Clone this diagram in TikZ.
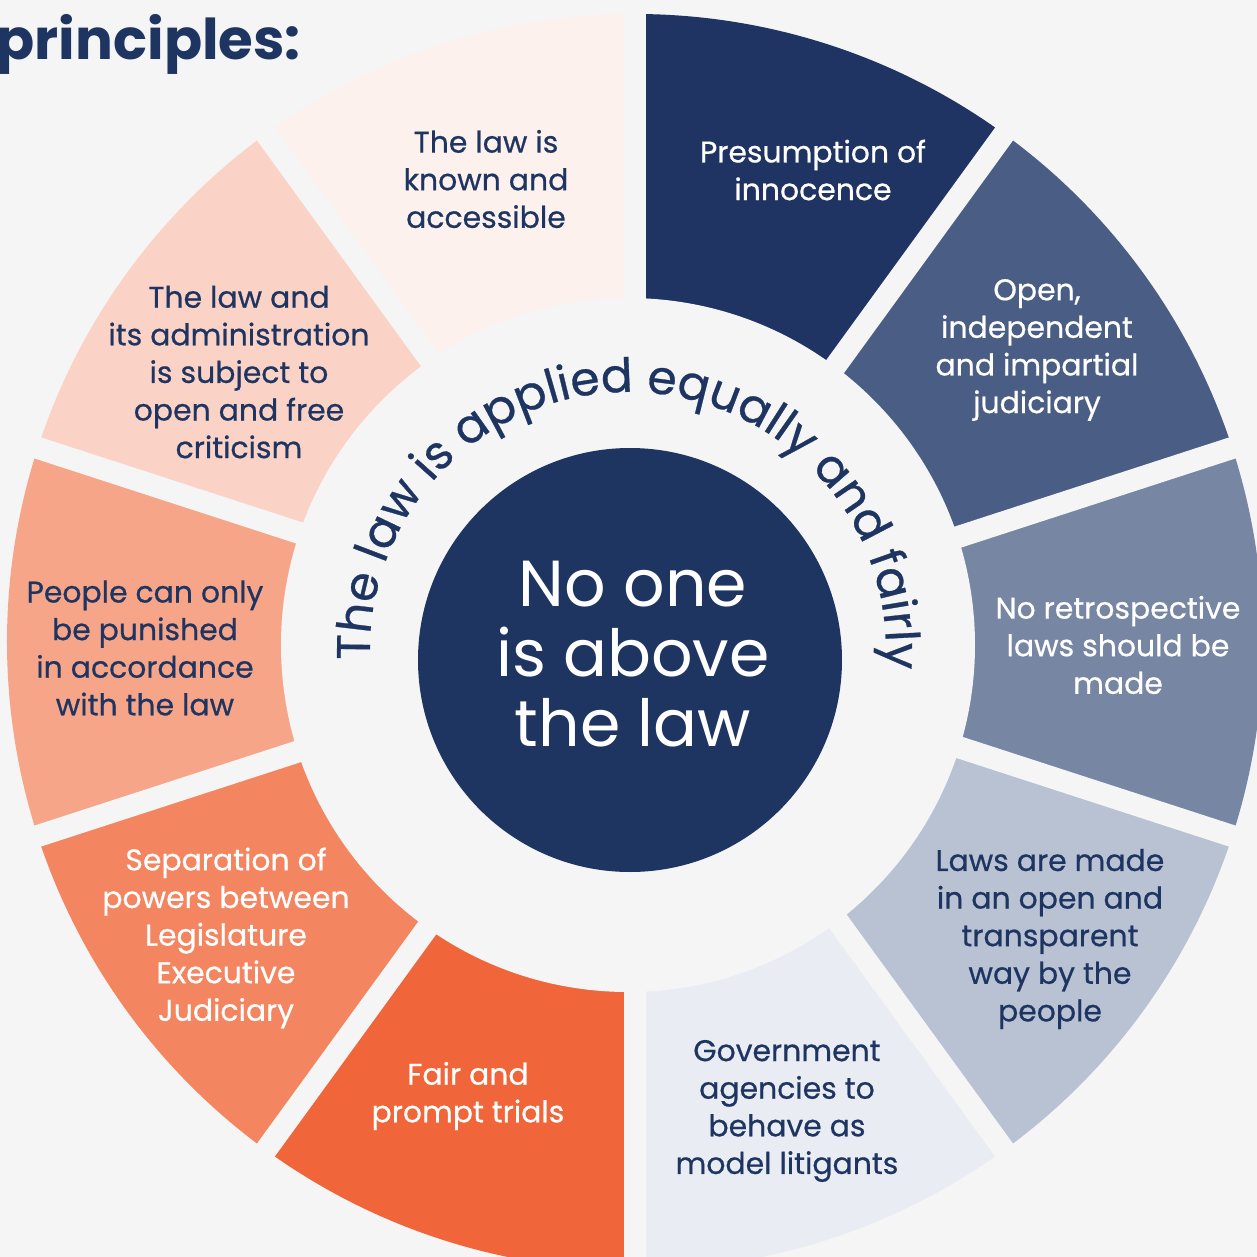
\documentclass[tikz,border=0pt]{standalone}
\usepackage{fontspec}
\setmainfont{Poppins}
\newfontfamily\medfont{Poppins}[FakeBold=0.6]
\usetikzlibrary{calc,math,decorations.text}

\definecolor{bgGrey}{HTML}{F5F5F5}
\definecolor{navy}{HTML}{1E3461}
\definecolor{segKnown}{HTML}{FDF1EE}
\definecolor{segAdmin}{HTML}{FBD3C6}
\definecolor{segPeople}{HTML}{F7A588}
\definecolor{segSep}{HTML}{F38561}
\definecolor{segFair}{HTML}{F06539}
\definecolor{segGov}{HTML}{E9EDF3}
\definecolor{segMade}{HTML}{B9C2D3}
\definecolor{segRetro}{HTML}{7786A3}
\definecolor{segOpen}{HTML}{4A5E85}
\definecolor{segPresume}{HTML}{1F3462}

\newcommand\segfont{\medfont\fontsize{8.5}{10.7}\selectfont}
\newcommand\corefont{\fontsize{18.5}{19.9}\selectfont}
\newcommand\arcfont{\medfont\fontsize{13.4}{16}\selectfont\color{navy}}
\newcommand\headfont{\fontsize{16}{19}\selectfont\bfseries}

\begin{document}
\begin{tikzpicture}[x=0.1mm,y=0.1mm,
    segtext/.style={align=center,font=\segfont,inner sep=0pt}]
  \path[use as bounding box,fill=bgGrey] (-628,-612) rectangle (629,645);

  \tikzmath{
    real \rin;
    real \rout;
    real \rarc;
    \rin = 347;
    \rout = 628;
    \rarc = 258;
  }
  \coordinate (C) at (0,0);
  \coordinate (Co) at (7,3);
  \coordinate (Cc) at (2,-15);
  \coordinate (Ct) at (0,-5);

  % ring of ten segments
  \foreach \a/\col in {90/segKnown,126/segAdmin,162/segPeople,198/segSep,234/segFair,
                       270/segGov,306/segMade,342/segRetro,378/segOpen,414/segPresume}{
    \path[fill=\col] (Co) -- ($(Co)+(\a:\rout)$) arc[start angle=\a,end angle=\a+36,radius=\rout] -- cycle;
  }
  \foreach \a in {90,126,...,414}{
    \draw[bgGrey,line width=2.2mm] (Co) -- ($(Co)+(\a:720)$);
  }
  \path[fill=bgGrey] (C) circle [radius=\rin];

  \node[segtext,text=navy] (known) at (-142,466) {The law is\\known and\\accessible};
  \node[segtext,text=white] (presume) at (185,475) {Presumption of\\innocence};
  \node[segtext,text=white] (open) at (409,295) {Open,\\independent\\and impartial\\judiciary};
  \node[segtext,text=white] (retro) at (490,0) {No retrospective\\laws should be\\made};
  \node[segtext,text=navy] (made) at (422,-294) {Laws are made\\in an open and\\transparent\\way by the\\people};
  \node[segtext,text=navy] (gov) at (159,-466) {Government\\agencies to\\behave as\\model litigants};
  \node[segtext,text=white] (fair) at (-160,-451) {Fair and\\prompt trials};
  \node[segtext,text=white] (sep) at (-402,-293) {Separation of\\powers between\\Legislature\\Executive\\Judiciary};
  \node[segtext,text=navy] (people) at (-483,-3) {People can only\\be punished\\in accordance\\with the law};
  \node[segtext,text=navy] (admin) at (-389,273) {The law and\\its administration\\is subject to\\open and free\\criticism};

  % curved motto
  \path[decorate,decoration={text along path,text align=center,
        text={|\arcfont|The law is applied equally and fairly}}]
    ($(Ct)+(186:\rarc)$) arc[start angle=186,end angle=-8,radius=\rarc];

  \path[fill=navy] (Cc) circle [radius=212];
  \node[align=center,text=white,font=\corefont,inner sep=0pt] (core) at (5,-9) {No one\\is above\\the law};

  \node[anchor=base west,font=\headfont,text=navy,inner sep=0pt] (heading) at (-632,585) {principles:};
\end{tikzpicture}
\end{document}
